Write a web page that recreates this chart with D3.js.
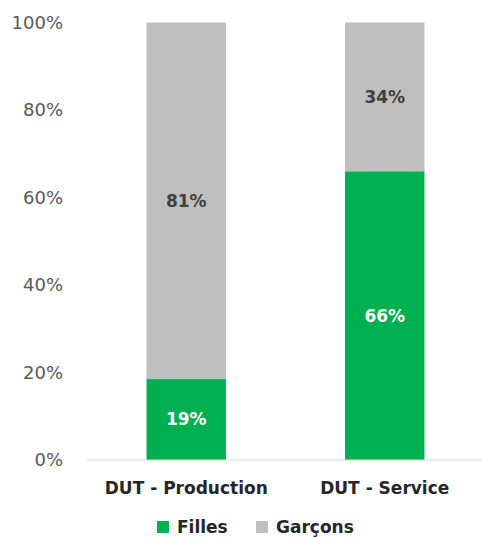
<!DOCTYPE html>
<html>
<head>
<meta charset="utf-8">
<script src="https://cdn.jsdelivr.net/npm/d3@7"></script>
<style>
  body { margin: 0; background: #fff; }
  text { font-family: "DejaVu Sans", sans-serif; }
</style>
</head>
<body>
<div id="chart"></div>
<script>
// values (percent)
const categories = ["DUT - Production", "DUT - Service"];
const filles = [18.5, 66];
const garcons = [81.5, 34];
const fillesLabels = ["19%", "66%"];
const garconsLabels = ["81%", "34%"];
const yTicks = [0, 20, 40, 60, 80, 100];
const seriesNames = ["Filles", "Garçons"];
const colors = ["#00b050", "#bfbfbf"];

const width = 482, height = 538;
const margin = { top: 22.5, right: 0, bottom: 78, left: 87 };

const svg = d3.select("#chart")
    .append("svg")
    .attr("width", width)
    .attr("height", height);

const x = d3.scaleBand()
    .domain(categories)
    .range([margin.left, margin.left + 397])
    .paddingInner(0.6)
    .paddingOuter(0.3);

const y = d3.scaleLinear()
    .domain([0, 100])
    .range([height - margin.bottom, margin.top]);

// y tick labels (no axis line)
svg.append("g")
    .selectAll("text")
    .data(yTicks)
    .join("text")
    .attr("x", 63)
    .attr("y", d => y(d))
    .attr("dy", "0.35em")
    .attr("text-anchor", "end")
    .attr("font-size", 18)
    .attr("fill", "#595959")
    .text(d => d + "%");

// stacked data
const rows = categories.map((c, i) => ({ cat: c, Filles: filles[i], "Garçons": garcons[i] }));
const stack = d3.stack().keys(seriesNames)(rows);
const labelSets = [fillesLabels, garconsLabels];
const labelColors = ["#ffffff", "#404040"];

stack.forEach((layer, k) => {
    svg.append("g")
        .selectAll("rect")
        .data(layer)
        .join("rect")
        .attr("x", d => x(d.data.cat))
        .attr("y", d => y(d[1]))
        .attr("width", x.bandwidth())
        .attr("height", d => y(d[0]) - y(d[1]))
        .attr("fill", colors[k]);

    svg.append("g")
        .selectAll("text")
        .data(layer)
        .join("text")
        .attr("x", d => x(d.data.cat) + x.bandwidth() / 2)
        .attr("y", d => (y(d[0]) + y(d[1])) / 2)
        .attr("dy", "0.35em")
        .attr("text-anchor", "middle")
        .attr("font-size", 17)
        .attr("font-weight", "bold")
        .attr("fill", labelColors[k])
        .text((d, i) => labelSets[k][i]);
});

// x axis baseline
svg.append("line")
    .attr("x1", margin.left)
    .attr("x2", width)
    .attr("y1", y(0))
    .attr("y2", y(0))
    .attr("stroke", "#d9d9d9")
    .attr("stroke-width", 1.2);

// category labels
svg.append("g")
    .selectAll("text")
    .data(categories)
    .join("text")
    .attr("x", d => x(d) + x.bandwidth() / 2)
    .attr("y", 494)
    .attr("text-anchor", "middle")
    .attr("font-size", 17)
    .attr("font-weight", "bold")
    .attr("fill", "#262626")
    .text(d => d);

// legend
const legendX = [157, 256];
const legend = svg.append("g");
seriesNames.forEach((name, i) => {
    legend.append("rect")
        .attr("x", legendX[i])
        .attr("y", 521)
        .attr("width", 12)
        .attr("height", 12)
        .attr("fill", colors[i]);
    legend.append("text")
        .attr("x", legendX[i] + 20)
        .attr("y", 533)
        .attr("font-size", 17)
        .attr("font-weight", "bold")
        .attr("fill", "#262626")
        .text(name);
});
</script>
</body>
</html>
